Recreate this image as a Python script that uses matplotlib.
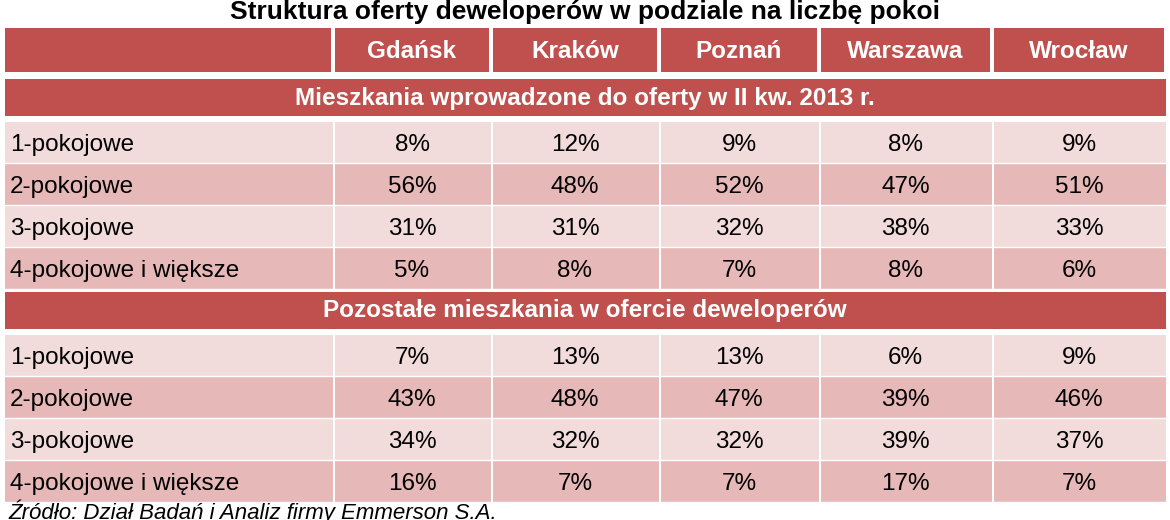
import matplotlib
matplotlib.use("Agg")
import matplotlib.pyplot as plt
from matplotlib.patches import Rectangle

title = "Struktura oferty deweloperów w podziale na liczbę pokoi"
cities = ["Gdańsk", "Kraków", "Poznań", "Warszawa", "Wrocław"]
rooms = ["1-pokojowe", "2-pokojowe", "3-pokojowe", "4-pokojowe i większe"]
section1 = "Mieszkania wprowadzone do oferty w II kw. 2013 r."
section2 = "Pozostałe mieszkania w ofercie deweloperów"
new_offer = [[8, 12, 9, 8, 9], [56, 48, 52, 47, 51], [31, 31, 32, 38, 33], [5, 8, 7, 8, 6]]
other_offer = [[7, 13, 13, 6, 9], [43, 48, 47, 39, 46], [34, 32, 32, 39, 37], [16, 7, 7, 17, 7]]
source = "Źródło: Dział Badań i Analiz firmy Emmerson S.A."

plt.rcParams["font.family"] = "Liberation Sans"
fig = plt.figure(figsize=(11.7, 5.2), dpi=100)
ax = fig.add_axes([0, 0, 1, 1])
ax.set_xlim(0, 1170); ax.set_ylim(520, 0); ax.axis("off")

RED = "#C0504D"; LIGHT = "#F2DCDB"; DARK = "#E6B9B8"
cols = [5, 333, 491, 659, 819, 992, 1166]
FS = 17.5

def rect(x0, y0, x1, y1, c):
    ax.add_patch(Rectangle((x0, y0), x1 - x0, y1 - y0, fc=c, ec="none"))

ax.text(585, 12, title, ha="center", va="center", fontsize=19, fontweight="bold")
rect(cols[0], 28, cols[1] - 2, 72, RED)
for i, c in enumerate(cities):
    rect(cols[i + 1] + 2, 28, cols[i + 2] - 2, 72, RED)
    ax.text((cols[i + 1] + cols[i + 2]) / 2, 52, c, ha="center", va="center",
            fontsize=FS, fontweight="bold", color="white")

def block(y0, name, data):
    rect(cols[0], y0, cols[-1], y0 + 37, RED)
    ax.text(585, y0 + 19, name, ha="center", va="center", fontsize=FS, fontweight="bold", color="white")
    y = y0 + 43
    for r, (lab, vals) in enumerate(zip(rooms, data)):
        bg = LIGHT if r % 2 == 0 else DARK
        rect(cols[0], y, cols[1], y + 41, bg)
        ax.text(10, y + 23, lab, ha="left", va="center", fontsize=FS)
        for i, v in enumerate(vals):
            rect(cols[i + 1] + 2, y, cols[i + 2], y + 41, bg)
            ax.text((cols[i + 1] + cols[i + 2]) / 2, y + 23, f"{v}%", ha="center", va="center", fontsize=FS)
        ax.plot([cols[0], cols[-1]], [y + 41, y + 41], color="white", lw=1)
        y += 42
    return y

y = block(79, section1, new_offer)
block(y + 2, section2, other_offer)
ax.text(8, 512, source, ha="left", va="center", fontsize=16, style="italic")
fig.savefig("out.png", dpi=100)
